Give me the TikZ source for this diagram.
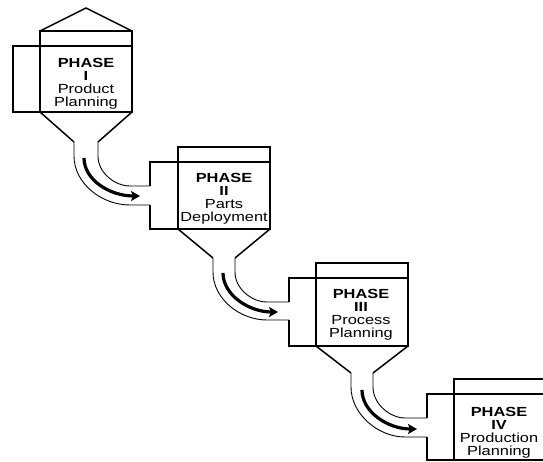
\documentclass[tikz,border=0pt]{standalone}
\usepackage{fontspec}
\setmainfont[FakeStretch=1.24]{Liberation Sans}
\usetikzlibrary{arrows.meta}
\begin{document}
\begin{tikzpicture}[x=1pt,y=-1pt,
  wall/.style={line width=1.5pt,line join=miter},
  chute/.style={line width=0.9pt},
  flow/.style={line width=3.2pt,-{Stealth[length=9pt,width=10pt,inset=2pt]}},
  label/.style={anchor=north,inner sep=0pt,align=center,
    font=\fontsize{13.2}{13}\selectfont}]
\useasboundingbox (0,0) rectangle (543,462);
\clip (0,0) rectangle (543,462);

% Phase I: roof, bin, side box and hopper
\draw[wall] (40,31) -- (86,8) -- (132,31);
\draw[wall] (40,31) rectangle (132,112);
\draw[wall] (13,46) -- (132,46);
\draw[wall] (13,46) rectangle (40,112);
\draw[wall] (40,112) -- (74,142);
\draw[wall] (132,112) -- (98,142);

% chute I -> II
\draw[chute] (98,142) -- (98,156) .. controls (98,173) and (115,186) .. (130,186) -- (150,186);
\draw[chute] (74,142) -- (74,156) .. controls (74,183) and (101,205) .. (130,205) -- (150,205);
\draw[flow] (84,158) .. controls (84,180) and (110,196) .. (140,196);

% Phase II
\draw[wall] (178,147) rectangle (270,229);
\draw[wall] (150,186) -- (150,162) -- (270,162);
\draw[wall] (150,205) -- (150,229) -- (178,229);
\draw[wall] (178,229) -- (213,258);
\draw[wall] (270,229) -- (235,258);

% chute II -> III
\draw[chute] (235,258) -- (235,272) .. controls (235,289) and (252,302) .. (267,302) -- (289,302);
\draw[chute] (213,258) -- (213,272) .. controls (213,299) and (240,320) .. (267,320) -- (289,320);
\draw[flow] (223,273) .. controls (223,295) and (249,312) .. (278,312);

% Phase III
\draw[wall] (316,263) rectangle (408,346);
\draw[wall] (289,302) -- (289,278) -- (408,278);
\draw[wall] (289,320) -- (289,346) -- (316,346);
\draw[wall] (316,346) -- (351,373);
\draw[wall] (408,346) -- (373,373);

% chute III -> IV
\draw[chute] (373,373) -- (373,387) .. controls (373,404) and (390,418) .. (405,418) -- (427,418);
\draw[chute] (351,373) -- (351,387) .. controls (351,414) and (378,437) .. (405,437) -- (427,437);
\draw[flow] (362,390) .. controls (362,412) and (388,429) .. (417,429);

% Phase IV
\draw[wall] (454,379) rectangle (546,460);
\draw[wall] (427,418) -- (427,394) -- (546,394);
\draw[wall] (427,437) -- (427,460) -- (454,460);

% captions
\node[label] (p1) at (86,58)  {\textbf{PHASE}\\\textbf{I}\\Product\\Planning};
\node[label] (p2) at (224,173) {\textbf{PHASE}\\\textbf{II}\\Parts\\Deployment};
\node[label] (p3) at (361,289) {\textbf{PHASE}\\\textbf{III}\\Process\\Planning};
\node[label] (p4) at (499,407) {\textbf{PHASE}\\\textbf{IV}\\Production\\Planning};
\end{tikzpicture}
\end{document}
